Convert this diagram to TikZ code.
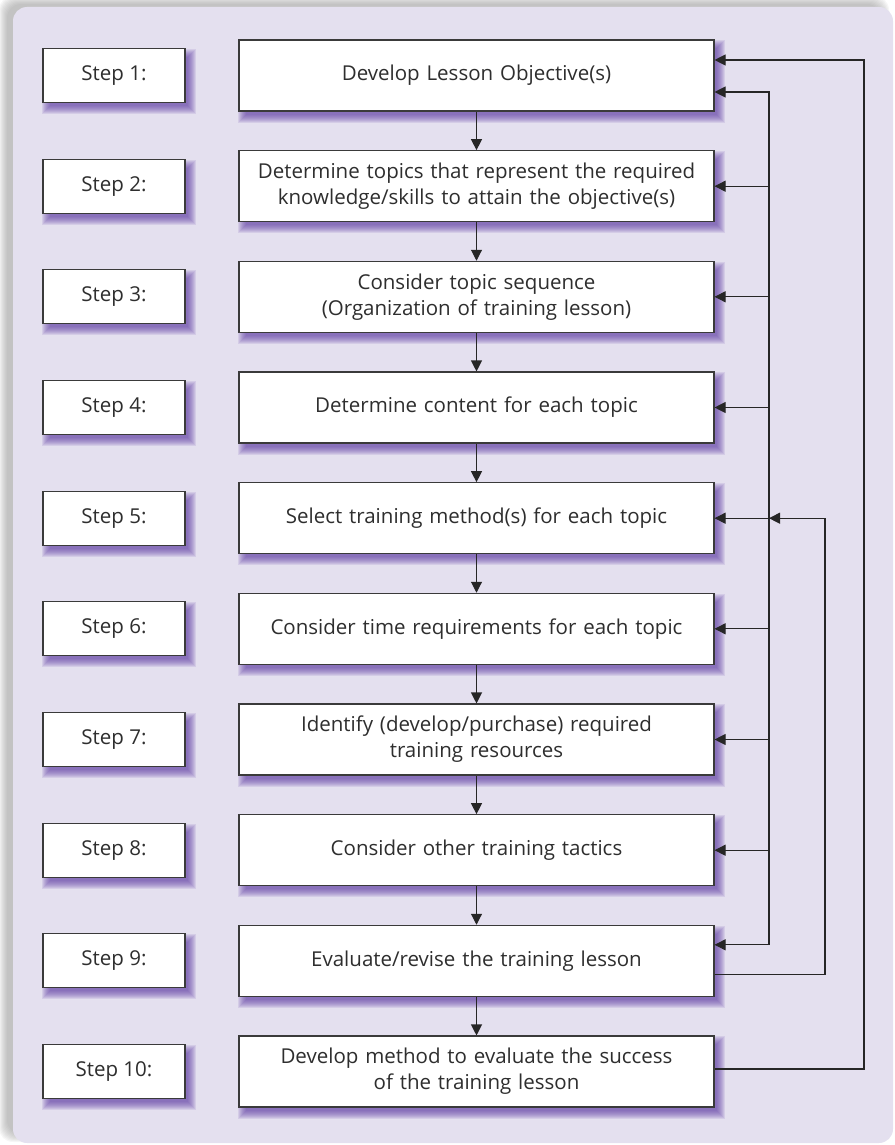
\documentclass[tikz,border=0pt]{standalone}
\usepackage{fontspec}
\setmainfont{Open Sans}
\usetikzlibrary{arrows.meta,calc}
\definecolor{panel}{HTML}{E4E0EF}
\definecolor{ink}{HTML}{2E2E2E}
\definecolor{edge}{HTML}{3A3A3A}
\definecolor{glow}{HTML}{6442A6}
\definecolor{wire}{HTML}{262626}
\definecolor{frame}{HTML}{8C8C8C}
\pgfdeclarelayer{bg}
\pgfdeclarelayer{glowlayer}
\pgfsetlayers{bg,glowlayer,main}
\tikzset{
  taskbox/.style={draw=edge, line width=1.1pt, fill=white,
    minimum width=475pt, minimum height=71pt, text width=468pt,
    align=center, inner sep=0pt, text=ink,
    font=\fontsize{20.5}{26}\selectfont},
  stepbox/.style={draw=edge, line width=1.1pt, fill=white,
    minimum width=142pt, minimum height=54pt, inner sep=0pt, text=ink,
    font=\fontsize{20.5}{26}\selectfont},
  tip/.tip={Triangle[length=11pt,width=11pt]},
  wireline/.style={draw=wire, line width=1.1pt},
  flow/.style={wireline, -tip},
  feedback/.style={wireline, -tip},
  feedbackboth/.style={wireline, tip-tip},
}
\begin{document}
\begin{tikzpicture}[x=1pt,y=-1pt]
\useasboundingbox (0,0) rectangle (894,1145);

% lavender panel with its soft grey shadow
\begin{pgfonlayer}{bg}
  \foreach \k in {0,...,8}
    \fill[frame, opacity=0.08, rounded corners=14pt]
      ({13-9-\k+3},{7-6-\k+3}) rectangle ({893-9+\k-3},{1143-6+\k-3});
  \fill[panel, rounded corners=14pt] (13,7) rectangle (893,1143);
\end{pgfonlayer}

% task boxes
\node[taskbox] (m1)  at (476.5,75.5)  {Develop Lesson Objective(s)};
\node[taskbox] (m2)  at (476.5,186.2) {Determine topics that represent the required\\knowledge/skills to attain the objective(s)};
\node[taskbox] (m3)  at (476.5,296.8) {Consider topic sequence\\(Organization of training lesson)};
\node[taskbox] (m4)  at (476.5,407.5) {Determine content for each topic};
\node[taskbox] (m5)  at (476.5,518.2) {Select training method(s) for each topic};
\node[taskbox] (m6)  at (476.5,628.8) {Consider time requirements for each topic};
\node[taskbox] (m7)  at (476.5,739.5) {Identify (develop/purchase) required\\training resources};
\node[taskbox] (m8)  at (476.5,850.2) {Consider other training tactics};
\node[taskbox] (m9)  at (476.5,960.8) {Evaluate/revise the training lesson};
\node[taskbox] (m10) at (476.5,1071.5) {Develop method to evaluate the success\\of the training lesson};

% step labels
\foreach \i in {1,...,10}
  \node[stepbox] (s\i) at (114,0 |- m\i) {Step \i:};

% purple glow under every box
\begin{pgfonlayer}{glowlayer}
  \foreach \n in {m1,m2,m3,m4,m5,m6,m7,m8,m9,m10,s1,s2,s3,s4,s5,s6,s7,s8,s9,s10}
    \foreach \k in {0,...,8}
      \fill[glow, opacity=0.12]
        ($(\n.north west)+({8-\k},{9-\k})$) rectangle ($(\n.south east)+({2+\k},{3+\k})$);
\end{pgfonlayer}

% main sequence
\foreach \i/\j in {1/2,2/3,3/4,4/5,5/6,6/7,7/8,8/9,9/10}
  \draw[flow] (m\i.south) -- (m\j.north);

% feedback rails
\coordinate (inner)  at (769,0);
\coordinate (middle) at (825,0);
\coordinate (outer)  at (864,0);

\draw[feedback] ([yshift=2.5pt]m10.east) -- ([yshift=2.5pt]m10.east -| outer)
  -- ([yshift=15.5pt]m1.east -| outer) -- ([yshift=15.5pt]m1.east);

\draw[feedbackboth] ([yshift=-16.5pt]m1.east) -- ([yshift=-16.5pt]m1.east -| inner)
  -- ([yshift=16pt]m9.east -| inner) -- ([yshift=16pt]m9.east);

\foreach \i in {2,...,8}
  \draw[feedback] (m\i.east -| inner) -- (m\i.east);

\draw[feedback] ([yshift=-14pt]m9.east) -| (middle |- m5.east) -- (m5.east -| inner);
\end{tikzpicture}
\end{document}
